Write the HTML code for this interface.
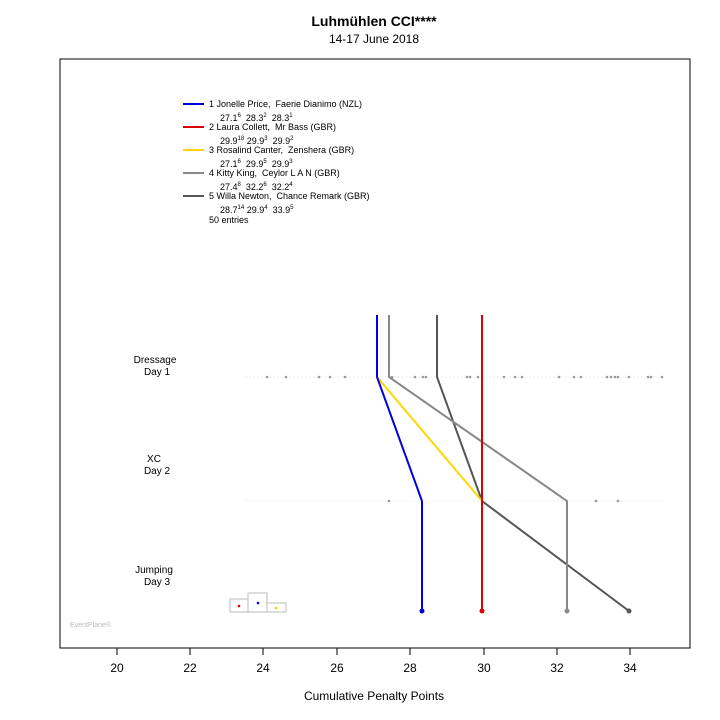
<!DOCTYPE html>
<html><head><style>body{margin:0;background:#fff}svg{display:block}text{font-family:"Liberation Sans",sans-serif;white-space:pre}</style></head><body>
<svg width="720" height="720" xmlns="http://www.w3.org/2000/svg">
<text x="374" y="26" font-size="14" font-weight="bold" text-anchor="middle">Luhmühlen CCI****</text>
<text x="374" y="43" font-size="12" text-anchor="middle">14-17 June 2018</text>
<rect x="60" y="59" width="630" height="589" fill="none" stroke="#000" stroke-width="1"/>
<g stroke="#000"><line x1="117" y1="648" x2="630" y2="648"/>
<line x1="117" y1="648" x2="117" y2="655"/><line x1="190" y1="648" x2="190" y2="655"/><line x1="263" y1="648" x2="263" y2="655"/><line x1="337" y1="648" x2="337" y2="655"/><line x1="410" y1="648" x2="410" y2="655"/><line x1="484" y1="648" x2="484" y2="655"/><line x1="557" y1="648" x2="557" y2="655"/><line x1="630" y1="648" x2="630" y2="655"/></g>
<g font-size="12" text-anchor="middle"><text x="117" y="672">20</text><text x="190" y="672">22</text><text x="263" y="672">24</text><text x="337" y="672">26</text><text x="410" y="672">28</text><text x="484" y="672">30</text><text x="557" y="672">32</text><text x="630" y="672">34</text>
<text x="374" y="700">Cumulative Penalty Points</text></g>
<g font-size="10" text-anchor="middle"><text x="155" y="363">Dressage</text><text x="157" y="375">Day 1</text>
<text x="154" y="462">XC</text><text x="157" y="474">Day 2</text>
<text x="154" y="573">Jumping</text><text x="157" y="585">Day 3</text></g>
<text x="70" y="627" font-size="7" fill="#bbb">EventPlane®</text>
<line x1="245" y1="377" x2="665" y2="377" stroke="#eee" stroke-dasharray="2,2"/>
<line x1="245" y1="501" x2="665" y2="501" stroke="#eee" stroke-dasharray="2,2"/>
<g fill="#999"><circle cx="267" cy="377" r="1.3"/><circle cx="286" cy="377" r="1.3"/><circle cx="319" cy="377" r="1.3"/><circle cx="330" cy="377" r="1.3"/><circle cx="345" cy="377" r="1.3"/><circle cx="392" cy="377" r="1.3"/><circle cx="415" cy="377" r="1.3"/><circle cx="423" cy="377" r="1.3"/><circle cx="426" cy="377" r="1.3"/><circle cx="467" cy="377" r="1.3"/><circle cx="470" cy="377" r="1.3"/><circle cx="478" cy="377" r="1.3"/><circle cx="504" cy="377" r="1.3"/><circle cx="515" cy="377" r="1.3"/><circle cx="522" cy="377" r="1.3"/><circle cx="559" cy="377" r="1.3"/><circle cx="574" cy="377" r="1.3"/><circle cx="581" cy="377" r="1.3"/><circle cx="607" cy="377" r="1.3"/><circle cx="611" cy="377" r="1.3"/><circle cx="615" cy="377" r="1.3"/><circle cx="618" cy="377" r="1.3"/><circle cx="629" cy="377" r="1.3"/><circle cx="648" cy="377" r="1.3"/><circle cx="651" cy="377" r="1.3"/><circle cx="662" cy="377" r="1.3"/>
<circle cx="389" cy="501" r="1.3"/><circle cx="596" cy="501" r="1.3"/><circle cx="618" cy="501" r="1.3"/></g>
<g fill="none" stroke-width="2">
<polyline points="437,315 437,377 482,501 629,611" stroke="#555"/>
<polyline points="389,315 389,377 567,501 567,611" stroke="#888"/>
<polyline points="377,377 482,501 482,611" stroke="#ffd700"/>
<polyline points="482,315 482,611" stroke="#dd0000"/>
<polyline points="377,315 377,377 422,501 422,611" stroke="#0000dd"/>
</g>
<circle cx="422" cy="611" r="2.5" fill="#0000dd"/><circle cx="482" cy="611" r="2.5" fill="#dd0000"/><circle cx="567" cy="611" r="2.5" fill="#888"/><circle cx="629" cy="611" r="2.5" fill="#555"/>
<g fill="none" stroke="#bbb"><rect x="230" y="599" width="18" height="13"/><rect x="248" y="593" width="19" height="19"/><rect x="267" y="603" width="19" height="9"/></g>
<circle cx="239" cy="606" r="1.3" fill="#d00"/><circle cx="258" cy="603" r="1.3" fill="#00d"/><circle cx="276" cy="608" r="1.3" fill="#fc0"/>
<g stroke-width="2"><line x1="183" y1="104" x2="204" y2="104" stroke="#0000dd"/><line x1="183" y1="127" x2="204" y2="127" stroke="#dd0000"/><line x1="183" y1="150" x2="204" y2="150" stroke="#ffd700"/><line x1="183" y1="173" x2="204" y2="173" stroke="#888"/><line x1="183" y1="196" x2="204" y2="196" stroke="#555"/></g>
<g font-size="9" xml:space="preserve">
<text x="209" y="107">1 Jonelle Price,  Faerie Dianimo (NZL)</text>
<text x="220" y="121">27.1<tspan font-size="6" dy="-4">6</tspan><tspan dy="4">  28.3</tspan><tspan font-size="6" dy="-4">2</tspan><tspan dy="4">  28.3</tspan><tspan font-size="6" dy="-4">1</tspan></text>
<text x="209" y="130">2 Laura Collett,  Mr Bass (GBR)</text>
<text x="220" y="144">29.9<tspan font-size="6" dy="-4">18</tspan><tspan dy="4"> 29.9</tspan><tspan font-size="6" dy="-4">3</tspan><tspan dy="4">  29.9</tspan><tspan font-size="6" dy="-4">2</tspan></text>
<text x="209" y="153">3 Rosalind Canter,  Zenshera (GBR)</text>
<text x="220" y="167">27.1<tspan font-size="6" dy="-4">6</tspan><tspan dy="4">  29.9</tspan><tspan font-size="6" dy="-4">5</tspan><tspan dy="4">  29.9</tspan><tspan font-size="6" dy="-4">3</tspan></text>
<text x="209" y="176">4 Kitty King,  Ceylor L A N (GBR)</text>
<text x="220" y="190">27.4<tspan font-size="6" dy="-4">8</tspan><tspan dy="4">  32.2</tspan><tspan font-size="6" dy="-4">6</tspan><tspan dy="4">  32.2</tspan><tspan font-size="6" dy="-4">4</tspan></text>
<text x="209" y="199">5 Willa Newton,  Chance Remark (GBR)</text>
<text x="220" y="213">28.7<tspan font-size="6" dy="-4">14</tspan><tspan dy="4"> 29.9</tspan><tspan font-size="6" dy="-4">4</tspan><tspan dy="4">  33.9</tspan><tspan font-size="6" dy="-4">5</tspan></text>
<text x="209" y="223">50 entries</text>
</g>
</svg>
</body></html>
